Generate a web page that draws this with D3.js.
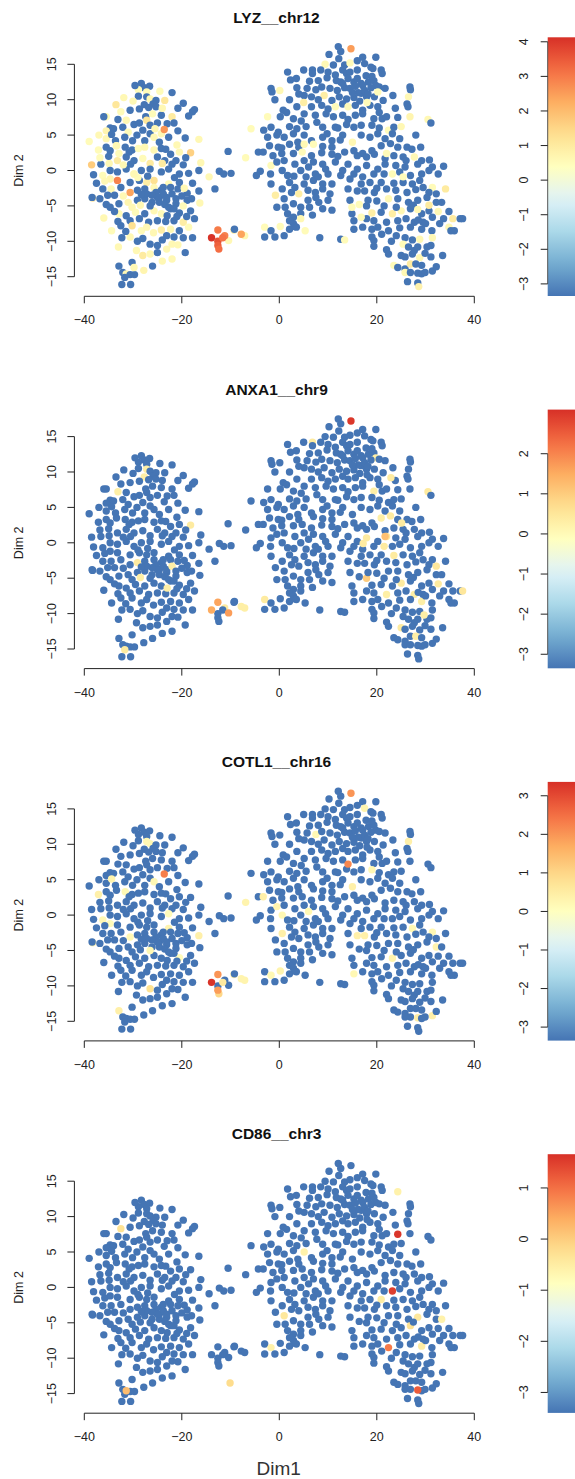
<!DOCTYPE html>
<html><head><meta charset="utf-8">
<script src="https://cdn.jsdelivr.net/npm/d3@7"></script>
<style>body{margin:0;background:#fff}text{font-family:"Liberation Sans",Arial,Helvetica,sans-serif}</style>
</head><body><svg id="c" width="575" height="1479"></svg>
<script>
// ---- t-SNE embedding of the cells (Dim1, Dim2) ----
const cells = [
[-28.3,12.3],[-27.7,11.7],[-26.6,11.9],[-28.9,11.4],[-27.2,11.1],[-24.5,11.2],[-22.0,11.0],[-31.9,10.3],[-28.9,10.5],[-27.2,10.4],[-26.5,10.1],[-25.3,9.9],[-25.9,9.4],[-27.7,9.3],[-26.8,8.9],[-23.5,9.9],[-19.7,9.5],[-17.4,8.6],[-17.8,8.3],[-18.6,7.7],[-33.5,9.3],[-35.5,7.6],[-36.0,7.6],[-32.5,8.3],[-30.6,8.5],[-28.7,8.7],[-25.3,9.0],[-27.4,7.6],[-24.2,7.8],[-22.0,7.6],[-21.6,6.7],[-23.6,5.8],[-33.1,7.2],[-31.4,7.1],[-29.8,6.5],[-28.7,6.7],[-27.2,7.1],[-26.5,6.4],[-25.0,6.7],[-34.7,6.0],[-35.5,5.6],[-34.0,5.9],[-32.1,6.1],[-31.0,5.4],[-28.0,5.7],[-26.5,5.2],[-39.0,4.1],[-37.0,5.0],[-35.5,4.5],[-34.4,5.1],[-33.6,4.2],[-31.7,4.7],[-30.1,4.2],[-27.6,4.2],[-25.7,4.7],[-24.6,4.0],[-22.7,4.7],[-19.3,4.6],[-16.5,4.4],[-37.1,2.9],[-35.5,3.3],[-34.7,2.8],[-33.4,3.5],[-31.6,3.3],[-30.2,2.9],[-28.9,3.1],[-27.6,3.3],[-25.7,2.9],[-24.2,3.1],[-22.3,2.3],[-20.5,2.6],[-18.2,2.5],[-38.5,0.8],[-36.6,0.9],[-34.9,1.0],[-33.2,1.4],[-31.4,1.9],[-29.8,1.4],[-28.0,1.7],[-26.5,1.0],[-25.0,1.9],[-23.5,1.4],[-22.0,0.9],[-19.7,0.8],[-16.1,1.1],[-38.1,-0.6],[-36.2,-0.7],[-34.7,0.0],[-33.2,-0.2],[-31.4,0.2],[-29.8,-0.5],[-28.3,0.0],[-26.5,0.2],[-24.2,-0.2],[-22.7,0.2],[-20.5,-0.5],[-18.6,-0.4],[-16.5,0.0],[-34.7,-1.2],[-33.2,-1.4],[-30.6,-1.7],[-28.7,-1.4],[-27.2,-1.7],[-25.7,-1.4],[-22.7,-1.9],[-20.5,-1.7],[-17.8,-1.8],[-14.4,-0.9],[-38.3,-3.9],[-36.2,-2.6],[-34.5,-2.6],[-32.5,-2.4],[-30.6,-3.1],[-29.1,-2.8],[-27.6,-2.6],[-25.7,-2.4],[-24.2,-2.8],[-22.3,-2.4],[-20.8,-2.6],[-18.9,-3.2],[-16.5,-2.9],[-35.5,-4.8],[-34.7,-5.2],[-32.9,-4.7],[-31.0,-4.5],[-29.1,-4.2],[-27.6,-4.0],[-26.1,-4.5],[-24.6,-3.8],[-23.1,-4.2],[-21.2,-4.7],[-18.9,-4.2],[-16.3,-4.6],[-36.0,-6.7],[-32.9,-6.1],[-31.4,-6.4],[-29.5,-5.9],[-27.6,-6.1],[-25.7,-5.7],[-24.2,-6.1],[-22.3,-5.4],[-20.5,-6.0],[-18.2,-5.7],[-33.1,-7.2],[-30.6,-7.1],[-28.7,-6.8],[-26.8,-7.3],[-25.0,-7.1],[-23.3,-7.2],[-21.6,-7.1],[-19.7,-7.3],[-17.4,-6.8],[-34.4,-8.5],[-32.5,-7.8],[-30.2,-7.8],[-28.3,-8.5],[-27.2,-8.0],[-24.2,-8.4],[-22.3,-8.3],[-20.5,-8.5],[-18.6,-8.0],[-32.3,-9.5],[-30.6,-9.4],[-29.1,-10.0],[-26.5,-10.4],[-25.0,-10.6],[-23.1,-9.2],[-21.6,-9.4],[-19.7,-9.5],[-17.8,-9.5],[-29.3,-11.3],[-28.0,-12.0],[-26.5,-11.8],[-25.0,-11.6],[-23.1,-11.1],[-20.8,-10.5],[-19.3,-11.6],[-30.2,-13.0],[-27.8,-14.1],[-22.0,-12.5],[-32.9,-13.5],[-32.1,-14.4],[-31.4,-14.6],[-30.6,-14.7],[-29.7,-14.7],[-31.7,-15.1],[-32.3,-16.1],[-30.5,-16.1],
[-25.3,-3.1],[-23.8,-3.3],[-23.1,-3.8],[-22.0,-3.3],[-24.6,-4.5],[-23.5,-4.8],[-21.2,-4.0],[-23.8,-2.4],[-25.0,-3.8],[-26.1,-3.5],[-27.2,-3.3],[-22.7,-5.2],[-21.6,-5.4],[-26.5,-5.0],[-38.4,-3.8],[-29.6,12.0],[-30.0,9.8],[-23.0,6.6],[-20.8,5.6],[-36.8,-4.0],
[-37.5,-1.8],[-35.8,-1.5],[-33.8,-3.5],[-36.8,1.8],[-35.0,2.0],[-32.0,0.8],[-30.5,0.9],[-29.0,-1.0],[-27.0,-0.8],[-33.8,-5.8],[-30.2,-5.2],[-28.5,-4.9],[-32.0,-3.6],[-35.2,-3.5],[-28.3,-3.4],[-21.5,-1.0],[-19.5,-2.5],[-18.0,-4.0],[-20.0,-3.6],[-19.2,1.8],[-21.2,1.4],[-21.0,3.6],[-23.3,3.0],[-24.0,1.0],[-30.8,2.6],[-29.2,5.0],[-24.0,8.8],[-26.0,8.0],[-20.8,8.8],[-23.0,-6.4],[-21.0,-6.5],[-19.0,-6.5],[-25.8,-8.8],[-28.0,-9.6],[-24.0,-9.8],[-22.0,-10.4],[-31.5,-8.6],[-33.0,-10.8],[-26.0,-13.5],[-24.0,-12.8],
[-13.2,-2.6],[-12.3,-0.1],[-10.5,2.7],[-9.9,-0.4],[-11.4,-0.5],[-12.6,-8.4],[-13.9,-9.5],[-12.6,-10.0],[-12.6,-10.6],[-12.4,-11.1],[-11.2,-9.2],[-10.4,-9.9],[-11.6,-9.5],[-9.3,-8.4],[-9.2,-8.3],[-7.8,-9.0],[-7.1,-9.2],[-6.9,1.8],
[12.1,17.5],[12.6,16.8],[14.7,17.2],[10.2,16.4],[9.4,15.0],[11.1,14.9],[13.4,14.9],[14.5,15.2],[17.1,16.0],[19.8,16.0],
[1.7,13.9],[5.0,14.2],[6.8,14.2],[6.8,13.7],[10.0,13.9],[11.5,13.5],[13.0,14.2],[13.8,13.7],[14.5,13.9],[16.0,14.2],[17.5,15.1],[18.8,14.6],[20.9,14.2],[21.1,13.7],[19.2,14.4],
[2.3,12.8],[6.2,12.6],[8.0,12.7],[9.8,13.1],[11.7,12.7],[12.6,12.5],[14.1,13.0],[15.3,12.5],[16.8,12.3],[18.3,12.5],[19.4,12.7],[19.8,12.0],
[-1.7,11.6],[-1.5,11.1],[0.1,11.3],[3.6,11.7],[5.7,11.6],[7.5,11.4],[8.7,11.8],[10.4,11.6],[11.9,11.3],[13.4,11.7],[14.5,11.6],[15.6,11.9],[17.1,12.0],[18.8,11.7],[20.5,11.8],[21.7,11.6],[26.8,11.8],[26.9,11.4],
[-0.9,10.0],[2.1,10.0],[5.1,10.6],[6.6,10.4],[9.2,10.6],[10.8,9.9],[12.3,10.4],[13.8,10.1],[15.3,10.3],[16.8,10.9],[17.9,10.4],[19.5,10.4],[21.3,9.9],[23.3,10.6],[26.5,10.4],
[0.8,8.5],[3.6,9.0],[6.6,9.0],[8.7,9.2],[10.0,8.7],[11.5,9.0],[13.0,9.4],[14.1,9.0],[15.6,9.2],[17.1,8.5],[18.6,9.2],[20.2,9.0],[26.2,9.4],[26.4,9.0],
[-2.4,7.6],[0.2,7.6],[2.9,7.3],[5.1,8.0],[7.4,7.8],[9.6,8.0],[11.1,7.6],[13.0,7.8],[14.1,7.2],[15.6,7.8],[17.1,8.0],[19.4,7.3],[21.1,7.3],[24.3,7.5],[26.8,7.6],[30.5,7.2],[31.1,6.7],
[-5.8,5.9],[-3.2,5.7],[-1.7,6.1],[-0.2,5.4],[2.1,6.2],[3.6,5.9],[5.5,6.2],[7.7,6.8],[8.9,6.1],[11.5,6.1],[13.8,6.5],[15.3,6.1],[16.8,6.4],[19.0,6.4],[20.5,6.0],[22.4,5.7],[23.5,6.1],[25.0,6.2],
[-2.4,4.7],[-0.5,5.0],[1.0,4.7],[2.9,5.2],[5.1,5.0],[6.6,4.2],[8.9,4.7],[10.8,4.2],[13.0,5.0],[15.0,4.0],[16.8,5.0],[18.6,4.7],[20.2,5.2],[21.7,4.5],[23.2,5.2],[24.7,4.5],
[-2.0,3.5],[-0.2,3.3],[2.1,3.7],[4.0,3.3],[7.0,3.7],[8.9,3.4],[10.8,3.3],[15.3,2.8],[17.1,2.4],[19.0,2.8],[20.9,3.5],[22.8,3.8],[24.3,3.3],[26.2,3.3],[29.0,3.3],
[-4.3,2.6],[-3.3,2.6],[-1.3,2.1],[0.5,2.4],[2.9,2.4],[4.7,2.6],[6.6,2.1],[8.7,2.5],[10.8,2.3],[13.4,2.6],[16.0,2.1],[17.9,1.9],[19.5,2.3],[21.7,1.7],[23.5,2.1],[25.4,1.9],[27.7,1.9],[29.2,1.4],[30.8,1.5],
[-3.9,-0.1],[-1.7,0.7],[-0.5,1.2],[1.0,1.4],[3.2,0.9],[5.1,1.4],[7.0,1.2],[8.9,0.9],[11.5,1.2],[14.1,0.9],[16.0,0.2],[17.9,0.7],[20.2,0.2],[21.7,0.9],[23.9,0.7],[25.8,0.5],[28.4,0.9],[31.4,0.5],[33.7,0.6],
[-4.7,-0.7],[-1.8,-0.5],[0.6,0.0],[1.7,-0.7],[4.4,0.0],[5.5,-0.9],[7.4,-0.5],[10.0,-0.5],[12.6,-0.7],[15.3,-0.5],[17.1,-0.9],[19.4,-0.5],[21.5,-0.5],[23.2,-0.5],[24.7,-0.2],[26.9,-0.7],[29.2,-0.5],[30.7,0.0],[32.6,-0.5],
[-1.7,-1.9],[2.1,-1.7],[3.2,-2.4],[5.1,-1.9],[7.0,-1.4],[8.9,-1.9],[10.8,-1.9],[16.8,-1.9],[18.6,-1.7],[20.9,-1.7],[23.5,-1.8],[25.4,-1.7],[27.3,-1.9],[28.8,-1.4],[31.4,-2.4],
[0.6,-2.6],[2.5,-3.1],[4.0,-3.3],[5.9,-2.8],[7.4,-3.1],[8.9,-2.6],[10.4,-3.3],[14.1,-2.6],[16.0,-2.9],[17.5,-2.9],[19.5,-3.1],[22.0,-2.6],[23.9,-2.8],[26.2,-3.1],[28.0,-2.7],[29.5,-2.4],[30.7,-3.1],[32.2,-3.3],[34.1,-2.6],
[-0.5,-5.2],[1.2,-5.2],[2.9,-4.7],[4.4,-5.2],[5.9,-4.2],[8.1,-4.5],[10.0,-4.2],[14.5,-4.2],[16.4,-4.8],[17.9,-5.0],[22.4,-4.0],[24.3,-4.0],[26.5,-4.5],[28.4,-4.2],[30.3,-3.8],[32.2,-4.5],[33.3,-4.5],
[1.7,-6.1],[2.9,-6.6],[4.4,-6.1],[6.2,-5.2],[8.9,-5.4],[10.8,-5.6],[14.9,-6.1],[19.0,-6.0],[20.9,-5.9],[23.2,-6.1],[25.0,-5.7],[26.9,-5.4],[29.2,-6.1],[30.7,-5.7],[32.6,-5.8],[34.8,-5.8],
[2.1,-7.1],[2.9,-7.5],[4.4,-6.8],[15.3,-7.1],[17.9,-6.8],[19.4,-7.1],[22.0,-7.3],[24.3,-7.1],[27.7,-7.3],[29.5,-7.3],[31.4,-6.6],[33.7,-6.8],[35.6,-6.8],[37.1,-6.8],
[-3.0,-8.0],[-1.7,-8.5],[0.2,-7.9],[2.1,-8.3],[3.2,-7.9],[15.3,-8.3],[17.1,-8.0],[19.0,-8.3],[20.2,-8.0],[22.4,-8.5],[24.7,-8.1],[26.9,-8.0],[29.2,-8.3],[31.3,-8.5],[32.9,-7.5],[34.8,-8.0],[35.9,-8.5],[37.6,-6.8],
[-3.0,-9.4],[-0.9,-9.4],[5.3,-8.5],[8.3,-9.5],[12.6,-9.7],[13.4,-9.8],[19.0,-9.4],[19.4,-9.9],[25.8,-9.5],[27.3,-9.8],[28.8,-9.7],[31.4,-9.5],[35.2,-8.5],
[19.4,-10.7],[25.4,-10.4],[26.5,-10.8],[27.7,-11.3],[28.4,-10.8],[30.3,-10.8],[31.1,-10.6],
[22.0,-11.2],[22.4,-11.8],[25.0,-12.0],[25.8,-12.2],[27.3,-11.8],[28.8,-12.3],[29.9,-11.7],[31.1,-12.2],[33.5,-12.0],
[23.5,-13.4],[24.3,-13.7],[25.8,-13.9],[26.9,-13.2],[28.0,-13.2],[29.2,-13.4],[31.4,-14.2],[32.2,-13.6],
[25.8,-14.4],[26.9,-14.4],[28.4,-14.5],[29.2,-14.6],[29.9,-14.4],[26.3,-15.7],[28.4,-15.9],[28.6,-16.4],
[16.2,11.0],[17.5,11.3],[18.2,10.8],[16.5,9.8],[18.0,9.6],[15.0,11.0],[16.0,13.0],[17.8,13.4],[19.0,13.3],[13.0,12.3],
[3.0,-0.8],[6.0,0.5],[8.0,-0.9],[9.5,0.2],[12.0,2.0],[12.5,4.3],[12.0,6.0],[9.8,5.2],[4.5,7.0],[1.5,8.2],[3.8,4.0],[0.5,3.2],[-0.8,-3.5],[1.0,-4.0],[6.8,-6.3],[7.5,-3.8],[3.5,-8.0],[1.0,-9.2],[20.0,-4.3],[21.5,-5.0],[24.0,-5.2],[27.5,-4.9],[26.0,-6.8],[28.5,-7.0],[30.0,-7.5],[24.0,-9.2],[21.0,-9.0],[23.0,-10.0],[26.0,1.4],[27.2,3.0],[28.0,5.0],[22.0,7.6],[23.8,8.8],[20.5,8.2],[12.2,15.8],[16.0,15.5],[8.5,14.2],[3.5,13.0],[8.0,10.0],[4.0,10.8],[20.0,-2.5],[18.2,-4.2],[14.5,-1.2],[13.0,0.0]
];

// ---- genes, panel titles, colour-bar ranges ----
const genes = ["LYZ__chr12", "ANXA1__chr9", "COTL1__chr16", "CD86__chr3"];
const scaleMin = [-3.35, -3.35, -3.35, -3.4];
const scaleMax = [4.13, 3.1, 3.36, 1.66];
const barTicks = [[-3,-2,-1,0,1,2,3,4], [-3,-2,-1,0,1,2], [-3,-2,-1,0,1,2,3], [-3,-2,-1,0,1]];
const xTicks = [-40, -20, 0, 20, 40];
const yTicks = [-15, -10, -5, 0, 5, 10, 15];

// expressed cells per gene: [Dim1, Dim2, scaled expression]; every other cell sits at the gene's minimum
const lyzExpr = [
[-39.0,4.0,0.5],[-38.6,0.8,1.7],[-38.1,-4.0,1.2],[-37.0,5.0,0.6],[-36.5,2.8,0.5],[-36.0,-6.8,0.6],[-35.5,5.7,0.7],[-35.0,4.2,0.6],[-34.7,1.4,0.6],[-34.7,-1.2,0.7],[-34.5,-2.6,0.6],[-34.4,-8.5,0.5],[-33.5,9.3,1.1],[-33.0,-1.4,2.9],[-32.5,-3.5,0.6],[-31.9,10.3,0.6],[-31.7,8.3,0.5],[-31.4,7.1,0.6],[-31.0,5.4,0.5],[-32.5,3.8,0.6],[-32.9,2.4,0.5],[-32.9,0.9,1.0],[-30.8,-3.2,2.4],[-30.6,-0.9,0.5],[-30.6,-4.6,0.7],[-30.6,-7.8,1.3],[-30.5,-9.5,0.6],[-29.7,9.4,0.6],[-29.1,11.3,0.5],[-29.3,-11.3,0.6],[-29.3,-8.5,0.5],[-28.7,-6.1,0.5],[-27.8,-14.1,0.7],[-27.6,-12.0,1.0],[-27.6,3.3,0.6],[-27.6,1.4,0.5],[-27.2,-2.0,0.9],[-26.8,9.9,0.6],[-26.5,11.1,0.5],[-26.3,7.1,1.1],[-26.1,4.7,0.6],[-26.1,2.4,0.6],[-26.2,0.7,1.0],[-25.7,-5.9,0.6],[-25.5,5.9,0.6],[-25.3,-0.9,1.3],[-25.0,-2.4,0.6],[-24.6,0.5,1.0],[-24.5,11.1,0.5],[-24.2,5.2,0.6],[-23.6,5.8,2.6],[-23.5,9.9,1.1],[-23.1,-11.1,0.6],[-22.7,-1.4,0.5],[-22.3,7.5,1.0],[-22.0,-8.5,0.6],[-21.6,-12.5,0.6],[-20.8,-10.6,0.6],[-20.6,2.6,0.6],[-20.5,-7.1,0.9],[-19.7,-5.0,0.5],[-19.3,-8.5,0.5],[-18.2,2.5,1.6],[-16.7,4.3,0.6],[-16.3,0.9,0.6],[-16.1,-4.6,0.6],[-14.4,-0.9,0.6],[-32.5,-6.6,0.5],[-36.2,-0.7,0.5],[-31.4,-14.6,0.6],[-29.8,-13.7,0.6],[-26.3,-12.2,0.6],[-22.7,-9.9,0.6],[-23.8,-8.3,0.9],[-33.4,3.5,0.6],[-28.9,3.1,0.5],[-29.8,-0.5,0.6],[-27.2,-8.0,0.6],[-24.2,-6.1,0.5],[-35.5,7.6,0.5],
[-35.8,-1.5,0.6],[-36.8,1.8,0.5],[-32.0,0.8,0.6],[-29.0,-1.0,0.5],[-30.2,-5.2,0.6],[-28.5,-4.9,0.6],[-24.0,8.8,0.6],[-26.0,8.0,0.5],[-21.0,3.6,0.6],[-19.5,-2.5,0.6],[-25.8,-8.8,0.6],[-33.0,-10.8,0.6],[-24.0,-12.8,0.6],
[-13.9,-9.5,4.1],[-12.6,-8.4,3.0],[-12.6,-10.0,3.6],[-11.6,-9.5,3.1],[-12.6,-10.6,3.4],[-12.4,-11.1,3.2],[-11.2,-9.2,2.9],[-10.4,-9.9,0.6],[-9.3,-8.4,1.0],[-7.8,-9.0,2.4],[-7.1,-9.2,0.6],[-6.9,1.8,0.5],[-5.8,5.9,0.5],
[14.7,17.2,2.5],[9.4,15.0,0.6],[15.0,15.1,0.5],[9.6,10.4,0.9],[20.2,11.1,0.5],[26.8,10.1,0.6],[30.4,7.2,0.6],[26.9,7.8,0.7],[-0.2,11.3,0.6],[-2.4,7.6,0.5],[5.0,9.6,0.9],[7.0,3.8,0.5],[5.1,3.7,0.6],[4.6,2.6,0.5],[-1.7,0.7,0.5],[-0.5,-3.7,0.9],[4.0,-3.5,0.9],[5.1,-6.7,0.6],[5.1,-8.5,0.5],[0.2,-7.9,0.5],[-3.3,-8.0,0.5],[13.4,-9.8,0.5],[15.3,4.0,0.6],[14.0,8.5,0.5],[12.3,9.0,0.5],[17.9,9.4,0.5],[22.0,2.4,0.5],[22.4,6.1,0.5],[25.4,6.2,0.6],[27.4,1.8,0.6],[22.8,-0.2,0.5],[25.4,-0.9,0.5],[22.4,-3.8,0.6],[19.0,-6.1,0.9],[22.8,-6.4,0.9],[25.0,-5.9,0.6],[14.9,-5.2,0.5],[16.0,-5.1,0.5],[16.8,-6.6,0.5],[28.4,-5.5,0.6],[30.7,-4.9,1.0],[32.6,-5.6,0.6],[34.1,-2.6,1.0],[34.8,-7.1,1.0],[34.1,-8.5,0.6],[30.7,-2.4,0.5],[25.8,-10.4,0.5],[28.4,-9.7,0.6],[31.4,-9.4,0.6],[28.8,-12.3,0.6],[23.9,-13.4,0.5],[26.1,-14.4,0.6],[27.3,-13.6,1.0],[28.6,-16.4,0.8]
];
const anxa1Expr = [
[-27.3,10.4,0.3],[-27.7,9.1,0.3],[-33.0,7.2,0.3],[-18.3,2.5,0.4],[-29.3,-2.8,0.4],[-22.2,-3.7,0.3],[-28.4,-5.2,0.3],[-22.4,-6.4,0.3],[-31.0,-15.1,0.4],
[-12.6,-8.5,1.6],[-13.8,-9.5,1.5],[-10.3,-9.9,1.7],[-11.5,-9.0,0.4],[-7.5,-8.9,0.3],[-7.0,-9.2,0.3],
[14.8,17.2,3.0],[6.8,14.1,0.4],[17.4,0.3,0.4],[19.8,11.6,0.3],[22.9,9.2,0.4],[20.1,7.6,0.3],[30.6,7.1,0.4],[20.5,3.5,0.3],[23.1,3.5,0.4],[25.1,2.8,0.4],[21.5,1.2,1.2],[22.0,0.9,0.5],[-2.1,-7.8,0.4],[17.4,-5.5,1.0],[17.2,-0.1,0.4],
[20.7,-0.3,0.4],[23.5,-1.7,0.4],[32.3,-2.7,0.5],[25.2,-5.9,0.4],[22.9,-7.0,0.3],[27.8,-7.2,0.3],[33.2,-5.4,0.4],[37.4,-6.7,0.5],[28.9,-8.0,0.3],[29.7,-10.2,0.3],[25.2,-12.0,0.4],[28.5,-13.0,0.3]
];
const cotl1Expr = [
[14.7,17.2,2.0],[17.6,15.1,0.3],[-27.0,10.2,0.2],[-26.5,10.0,0.2],[-23.6,5.8,2.3],[-34.4,5.1,0.3],[-25.0,4.7,0.2],[-31.7,3.4,0.2],[-36.6,2.9,0.4],[-38.1,-3.9,0.3],[-36.2,-0.7,0.2],[-34.7,-1.2,0.1],[-30.6,-3.1,0.2],[-23.1,0.2,0.1],[-22.6,-1.9,0.3],[-27.2,-5.2,0.2],[-20.6,-6.0,0.1],[-16.5,-2.9,0.4],[-26.5,-10.4,0.8],[-32.9,-13.5,0.4],
[-12.6,-8.4,2.0],[-13.9,-9.5,3.3],[-12.6,-10.6,1.9],[-12.4,-11.1,1.0],[-11.8,-9.6,0.6],[-9.3,-8.4,0.4],[-7.8,-9.0,0.3],[-7.0,-9.2,0.3],[-6.9,1.8,0.3],
[-3.3,2.6,0.4],[-0.9,1.5,0.3],[1.4,0.1,0.2],[0.6,-2.6,0.4],[0.2,-7.9,0.3],[-1.8,-7.8,0.2],[6.5,0.1,0.2],[7.5,11.4,0.2],[14.1,7.2,2.2],[15.0,4.0,0.4],[18.8,6.5,0.2],[16.0,-2.9,0.4],[17.5,-2.9,0.4],[15.3,-8.3,0.2],[23.2,-6.1,0.3],[26.5,10.4,0.4],[31.4,-2.4,0.2],[32.2,-4.5,0.3],[31.4,-14.2,0.4],[28.4,-14.5,0.5],[27.1,-1.8,0.2]
];
const cd86Expr = [
[-32.3,8.4,-0.3],[-31.0,-14.6,0.2],[-10.1,-13.5,-0.2],[5.3,4.5,-0.6],[0.0,-4.0,-0.4],[-1.5,-8.5,-0.6],
[24.6,7.5,1.6],[22.7,-0.2,1.5],[23.3,-8.2,0.9],[28.7,-14.6,1.2],[24.3,13.5,-0.6],[20.9,-1.7,-0.5],[28.4,-4.2,-0.4],[29.2,-8.3,-0.5],[33.3,-4.5,-0.6],[26.9,-5.4,-0.3]
];
const exprByGene = [lyzExpr, anxa1Expr, cotl1Expr, cd86Expr];

// ---- layout ----
const panelH = 372.3;
const plotL = 84.3, plotR = 474.3, plotT = 64.3, plotB = 276.7;
const xAxisY = 296.3, yAxisX = 74.4, tickLen = 7;
const barX = 547.7, barW = 40, barTop = 37.3, barBot = 296;
const palette = ["#4575B4","#74ADD1","#ABD9E9","#E0F3F8","#FFFFBF","#FEE090","#FDAE61","#F46D43","#D73027"];
const svg = d3.select("#c");
const defs = svg.append("defs");
const fmt = t => t < 0 ? "\u2212" + Math.abs(t) : String(t);

genes.forEach((gene, gi) => {
  const off = gi * panelH;
  const g = svg.append("g").attr("transform", `translate(0,${off})`);
  const x = d3.scaleLinear().domain([-40, 40]).range([plotL, plotR]);
  const y = d3.scaleLinear().domain([-15, 15]).range([plotB, plotT]);
  const vmin = scaleMin[gi], vmax = scaleMax[gi];
  const col = d3.scaleLinear()
    .domain(palette.map((_, i) => vmin + i * (vmax - vmin) / (palette.length - 1)))
    .range(palette).interpolate(d3.interpolateRgb).clamp(true);

  // assign expression to cells
  const pts = cells.map(c => ({ d1: c[0], d2: c[1], v: vmin, used: false }));
  exprByGene[gi].forEach(e => {
    let best = null, bd = 1e9;
    pts.forEach(p => {
      if (p.used) return;
      const d = Math.hypot(x(p.d1) - x(e[0]), y(p.d2) - y(e[1]));
      if (d < bd) { bd = d; best = p; }
    });
    if (best && bd < 5) { best.v = e[2]; best.used = true; }
    else pts.push({ d1: e[0], d2: e[1], v: e[2], used: true });
  });
  const hi = vmin + 0.68 * (vmax - vmin);
  const ordered = pts.filter(p => p.v < hi).concat(pts.filter(p => p.v >= hi));

  g.append("g").selectAll("circle").data(ordered).join("circle")
    .attr("cx", p => x(p.d1)).attr("cy", p => y(p.d2)).attr("r", 3.7)
    .attr("fill", p => col(p.v));

  // title
  g.append("text").attr("x", 276.5).attr("y", 22.5).attr("text-anchor", "middle")
    .attr("font-weight", "bold").attr("font-size", 15.5).attr("fill", "#111").text(gene);

  // x axis
  const xa = g.append("g");
  xa.append("line").attr("x1", x(-40)).attr("x2", x(40)).attr("y1", xAxisY).attr("y2", xAxisY).attr("stroke", "#222");
  xTicks.forEach(t => {
    xa.append("line").attr("x1", x(t)).attr("x2", x(t)).attr("y1", xAxisY).attr("y2", xAxisY + tickLen).attr("stroke", "#222");
    xa.append("text").attr("x", x(t)).attr("y", 320).attr("dy", "0.35em").attr("text-anchor", "middle")
      .attr("font-size", 12.5).attr("fill", "#222").text(fmt(t));
  });
  // y axis
  const ya = g.append("g");
  ya.append("line").attr("x1", yAxisX).attr("x2", yAxisX).attr("y1", y(-15)).attr("y2", y(15)).attr("stroke", "#222");
  yTicks.forEach(t => {
    ya.append("line").attr("x1", yAxisX - tickLen).attr("x2", yAxisX).attr("y1", y(t)).attr("y2", y(t)).attr("stroke", "#222");
    ya.append("text").attr("transform", `translate(51.5,${y(t)}) rotate(-90)`).attr("dy", "0.35em")
      .attr("text-anchor", "middle").attr("font-size", 12.5).attr("fill", "#222").text(fmt(t));
  });
  g.append("text").attr("transform", `translate(19,${y(0)}) rotate(-90)`).attr("dy", "0.35em")
    .attr("text-anchor", "middle").attr("font-size", 12.5).attr("fill", "#222").text("Dim 2");

  // colour bar
  const gid = "grad" + gi;
  const grad = defs.append("linearGradient").attr("id", gid).attr("x1", 0).attr("x2", 0).attr("y1", 1).attr("y2", 0);
  d3.range(0, 1.0001, 0.05).forEach(f => {
    grad.append("stop").attr("offset", f).attr("stop-color", col(vmin + f * (vmax - vmin)));
  });
  g.append("rect").attr("x", barX).attr("y", barTop).attr("width", barW).attr("height", barBot - barTop)
    .attr("fill", `url(#${gid})`);
  const bs = d3.scaleLinear().domain([vmin, vmax]).range([barBot, barTop]);
  const bt = barTicks[gi];
  g.append("line").attr("x1", barX).attr("x2", barX).attr("y1", bs(bt[0])).attr("y2", bs(bt[bt.length - 1])).attr("stroke", "#555");
  bt.forEach(t => {
    g.append("line").attr("x1", barX - tickLen).attr("x2", barX).attr("y1", bs(t)).attr("y2", bs(t)).attr("stroke", "#222");
    g.append("text").attr("transform", `translate(524,${bs(t)}) rotate(-90)`).attr("dy", "0.35em")
      .attr("text-anchor", "middle").attr("font-size", 12.5).attr("fill", "#222").text(fmt(t));
  });
});

svg.append("text").attr("x", 278.7).attr("y", 1475).attr("text-anchor", "middle")
  .attr("font-size", 19).attr("fill", "#333").text("Dim1");
</script></body></html>
